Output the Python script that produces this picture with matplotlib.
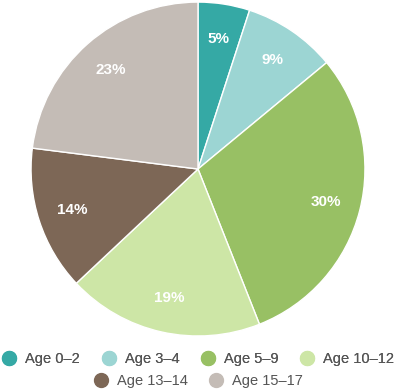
import matplotlib.pyplot as plt
from matplotlib.lines import Line2D

labels = ["Age 0\u20132", "Age 3\u20134", "Age 5\u20139", "Age 10\u201312", "Age 13\u201314", "Age 15\u201317"]
shares = [5, 9, 30, 19, 14, 23]
colors = ["#35a9a5", "#9cd5d3", "#98c064", "#cde6a6", "#7d6756", "#c4bcb6"]

plt.rcParams['font.family'] = ['Liberation Sans', 'DejaVu Sans']

fig = plt.figure(figsize=(3.96, 3.91), dpi=100)
ax = fig.add_axes([0.0783, 0.1407, 0.8434, 0.854])

wedges, texts, autotexts = ax.pie(
    shares, colors=colors, startangle=90, counterclock=False,
    autopct=lambda p: f"{p:.0f}%", pctdistance=0.79,
    wedgeprops=dict(edgecolor="white", linewidth=1),
    textprops=dict(color="white", fontsize=11, fontweight="bold"))
ax.set_xlim(-1, 1)
ax.set_ylim(-1, 1)
ax.set_aspect("equal")

handles = [Line2D([], [], marker="o", linestyle="", markersize=10,
                  markerfacecolor=c, markeredgecolor=c) for c in colors]

opts = dict(loc="center", frameon=False, fontsize=10.5, handlelength=1.0,
            handletextpad=0.6, columnspacing=1.45, labelcolor="#555555",
            borderaxespad=0, borderpad=0)
leg1 = fig.legend(handles[:4], labels[:4], bbox_to_anchor=(0.5, 0.082), ncol=4, **opts)
fig.add_artist(leg1)
fig.legend(handles[4:], labels[4:], bbox_to_anchor=(0.5, 0.026), ncol=2, **opts)

fig.savefig("out.png", dpi=100)
